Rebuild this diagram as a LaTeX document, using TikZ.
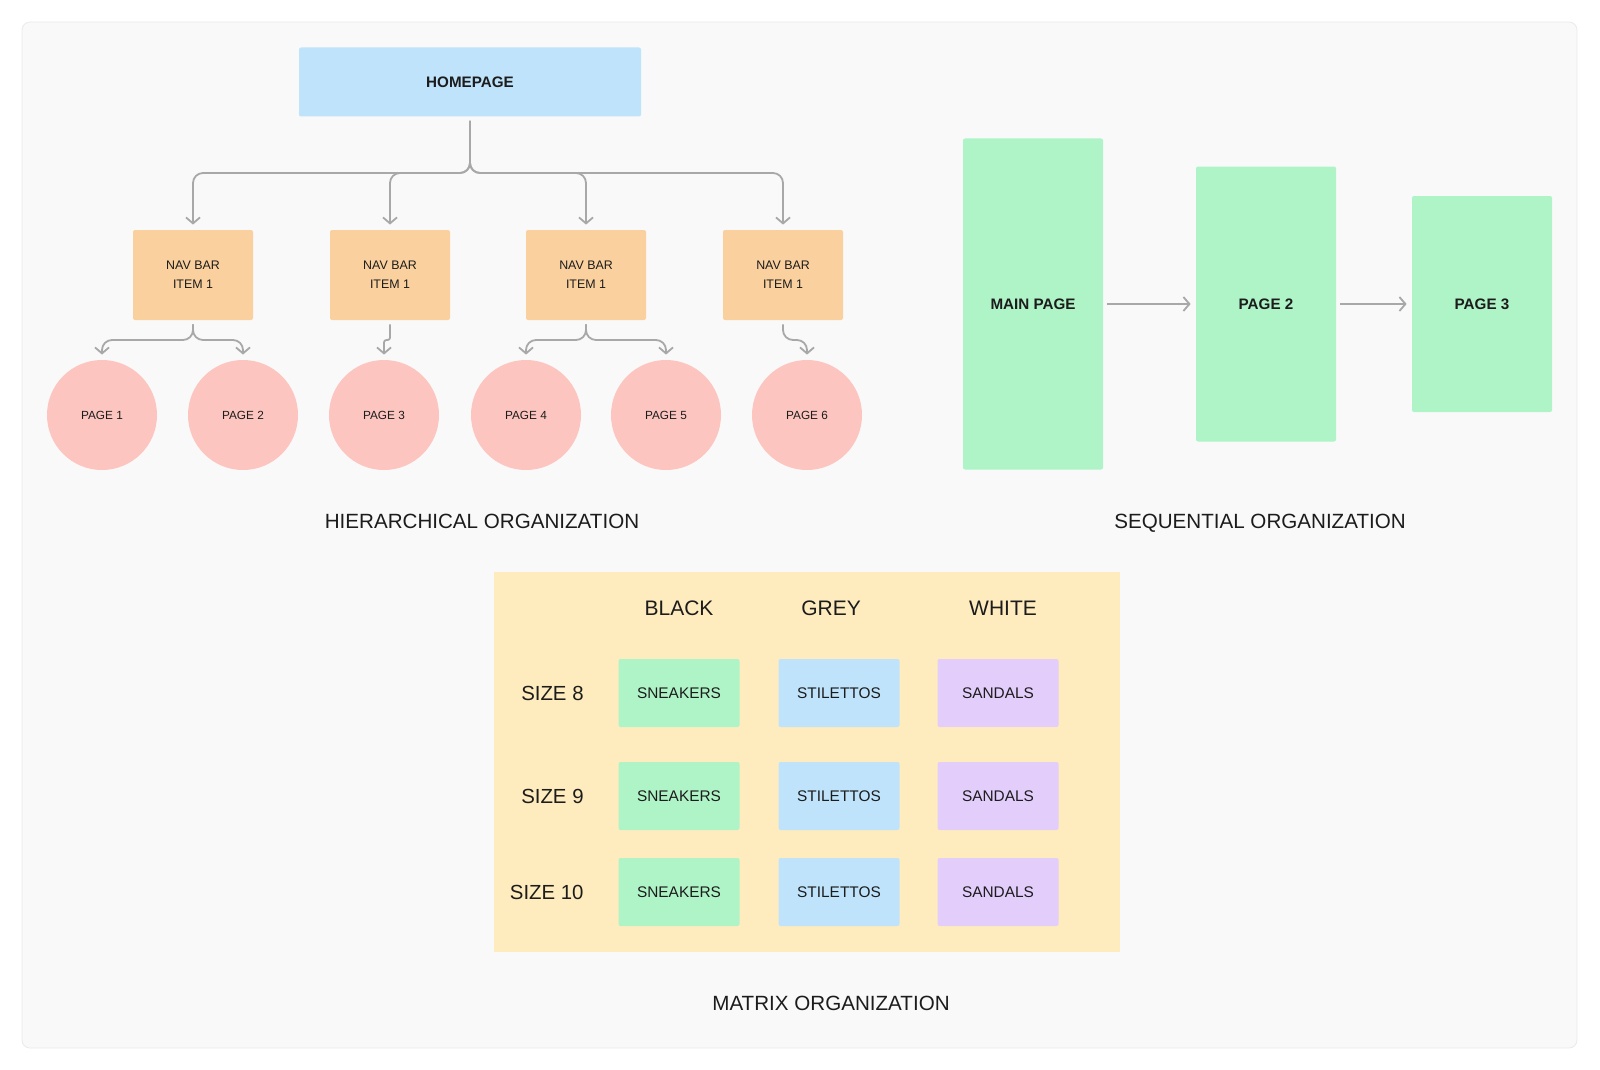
\documentclass[tikz,border=0pt]{standalone}
\usepackage{fontspec}
\setmainfont{Liberation Sans}
\usetikzlibrary{arrows.meta}

\definecolor{panelfill}{HTML}{F9F9F9}
\definecolor{panelline}{HTML}{EAEAEA}
\definecolor{homeblue}{HTML}{BEE3FA}
\definecolor{navorange}{HTML}{FAD19E}
\definecolor{pagepink}{HTML}{FDC5C0}
\definecolor{seqgreen}{HTML}{AFF4C6}
\definecolor{sandalpurple}{HTML}{E3CDFB}
\definecolor{matrixyellow}{HTML}{FFECBE}
\definecolor{linkgrey}{HTML}{A8A8A8}
\definecolor{ink}{HTML}{1C1C1C}

\begin{document}
\begin{tikzpicture}[x=0.5pt, y=-0.5pt,
    box/.style={rounded corners=1pt, inner sep=0pt, align=center, text=ink},
    homebox/.style={box, fill=homeblue, minimum width=171pt, minimum height=34.5pt, font=\bfseries\fontsize{7.6}{9}\selectfont},
    navbox/.style={box, fill=navorange, minimum width=60pt, minimum height=45pt, font=\fontsize{6.2}{9.7}\selectfont},
    pagecircle/.style={circle, fill=pagepink, inner sep=0pt, minimum size=55pt, text=ink, font=\fontsize{5.9}{7}\selectfont},
    seqbox/.style={box, fill=seqgreen, minimum width=70pt, font=\bfseries\fontsize{7.6}{9}\selectfont},
    cell/.style={box, minimum width=60.5pt, minimum height=34pt, font=\fontsize{7.7}{9}\selectfont},
    heading/.style={text=ink, inner sep=0pt, font=\fontsize{10.5}{12}\selectfont},
    caption/.style={text=ink, inner sep=0pt, anchor=base, font=\fontsize{10.3}{12}\selectfont},
    link/.style={draw=linkgrey, line width=0.9pt, rounded corners=5pt,
        -{Straight Barb[length=3pt, width=7pt, line width=0.9pt]}, shorten <=2pt, shorten >=2.5pt}]

    \useasboundingbox (0,0) rectangle (1600,1070);
    \draw[fill=panelfill, draw=panelline, rounded corners=4pt] (22,22) rectangle (1577,1048);

    % hierarchical
    \node[homebox] (home) at (470,82) {HOMEPAGE};
    \foreach \i/\x in {1/193, 2/390, 3/586, 4/783}
        \node[navbox] (nav\i) at (\x,275) {NAV BAR\\ITEM 1};
    \foreach \i/\x in {1/102, 2/243, 3/384, 4/526, 5/666, 6/807}
        \node[pagecircle] (page\i) at (\x,415) {PAGE \i};

    \foreach \i in {1,...,4}
        \draw[link] (home.south) -- (home.south |- 0,173) -| (nav\i.north);
    \foreach \n/\p/\r in {1/1/5, 1/2/5, 2/3/1.2, 3/4/5, 3/5/5, 4/6/5}
        \draw[link, rounded corners=\r pt] (nav\n.south) -- (nav\n.south |- 0,340) -| (page\p.north);

    \node[caption] (hiertitle) at (482,528.5) {HIERARCHICAL ORGANIZATION};

    % sequential
    \node[seqbox, minimum height=165.5pt] (mainpage) at (1033,304) {MAIN PAGE};
    \node[seqbox, minimum height=137.5pt] (seqtwo) at (1266,304) {PAGE 2};
    \node[seqbox, minimum height=108pt] (seqthree) at (1482,304) {PAGE 3};
    \draw[link] (mainpage.east) -- (seqtwo.west);
    \draw[link] (seqtwo.east) -- (seqthree.west);

    \node[caption] (seqtitle) at (1260,528.5) {SEQUENTIAL ORGANIZATION};

    % matrix
    \node[fill=matrixyellow, inner sep=0pt, minimum width=313pt, minimum height=190pt] (matrixbg) at (807,762) {};
    \foreach \c/\t/\x in {1/BLACK/679, 2/GREY/831, 3/WHITE/1003}
        \node[heading] (colhead\c) at (\x,608) {\t};
    \foreach \r/\y/\s in {1/693/8, 2/796/9, 3/892/10} {
        \node[heading, anchor=east, font=\fontsize{10.2}{12}\selectfont] (size\r) at (584,\y) {SIZE \s};
        \node[cell, fill=seqgreen] (sneakers\r) at (679,\y) {SNEAKERS};
        \node[cell, fill=homeblue] (stilettos\r) at (839,\y) {STILETTOS};
        \node[cell, fill=sandalpurple] (sandals\r) at (998,\y) {SANDALS};
    }

    \node[caption] (matrixtitle) at (831,1010.5) {MATRIX ORGANIZATION};
\end{tikzpicture}
\end{document}
